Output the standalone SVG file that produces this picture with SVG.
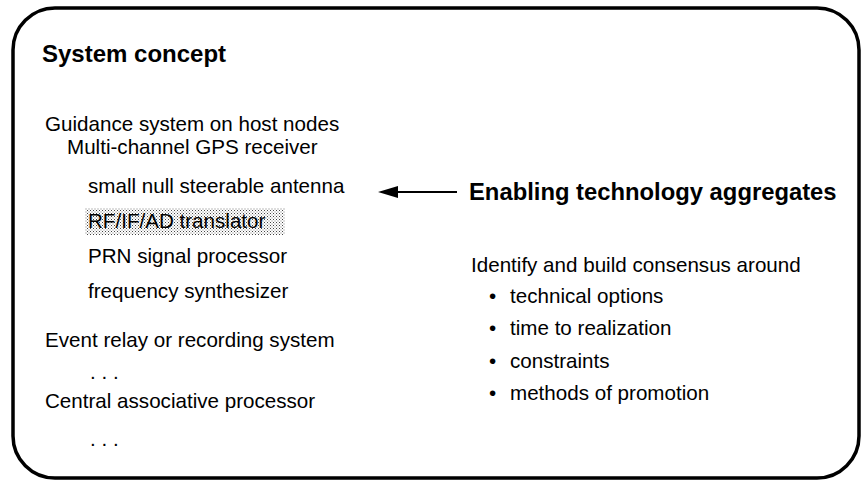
<svg xmlns="http://www.w3.org/2000/svg" width="862" height="484" viewBox="0 0 862 484">
  <defs>
    <style>
      .t { font-family: "Liberation Sans", Arial, sans-serif; font-size: 20.6px; fill: #000; }
      .h { font-family: "Liberation Sans", Arial, sans-serif; font-size: 24px; font-weight: bold; fill: #000; }
      .b { font-family: "Liberation Sans", Arial, sans-serif; font-size: 23.8px; font-weight: bold; fill: #000; }
      .frame { fill: #fff; stroke: #000; stroke-width: 3.5; }
      .link { stroke: #000; stroke-width: 2.2; fill: none; }
    </style>
    <!-- fine halftone used to highlight an item -->
    <pattern id="dots" width="3" height="3" patternUnits="userSpaceOnUse">
      <rect width="3" height="3" fill="#fff"/>
      <rect width="1" height="1" fill="#444"/>
      <rect x="1.5" y="1.5" width="1" height="1" fill="#777"/>
    </pattern>
  </defs>

  <rect width="862" height="484" fill="#fff"/>

  <!-- outer rounded frame -->
  <rect class="frame" x="13" y="8" width="846" height="470" rx="42" ry="42"/>

  <!-- left column: system breakdown -->
  <g id="system-concept">
    <text class="h" x="42" y="62">System concept</text>
  </g>
  <g id="guidance">
    <text class="t" x="45" y="131">Guidance system on host nodes</text>
    <text class="t" x="67" y="154">Multi-channel GPS receiver</text>
  </g>
  <g id="antenna">
    <text class="t" x="88" y="193">small null steerable antenna</text>
  </g>
  <g id="translator">
    <rect x="85" y="208" width="200" height="27" fill="url(#dots)"/>
    <text class="t" x="88" y="228">RF/IF/AD translator</text>
  </g>
  <g id="prn">
    <text class="t" x="88" y="263">PRN signal processor</text>
  </g>
  <g id="synth">
    <text class="t" x="88" y="298">frequency synthesizer</text>
  </g>
  <g id="event-relay">
    <text class="t" x="45" y="347">Event relay or recording system</text>
    <text class="t" x="90" y="379">. . .</text>
  </g>
  <g id="central">
    <text class="t" x="45" y="408">Central associative processor</text>
    <text class="t" x="90" y="446">. . .</text>
  </g>

  <!-- right column -->
  <g id="enabling">
    <text class="b" x="469" y="200">Enabling technology aggregates</text>
  </g>
  <g id="consensus">
    <text class="t" x="471" y="272">Identify and build consensus around</text>
    <text class="t" x="489" y="303">•</text><text class="t" x="510" y="303">technical options</text>
    <text class="t" x="489" y="335">•</text><text class="t" x="510" y="335">time to realization</text>
    <text class="t" x="489" y="368">•</text><text class="t" x="510" y="368">constraints</text>
    <text class="t" x="489" y="400">•</text><text class="t" x="510" y="400">methods of promotion</text>
  </g>

  <g id="connectors">
    <line class="link" x1="457" y1="192" x2="392" y2="192"/>
    <path d="M378,192 L398,186 L398,198 Z" fill="#000"/>
  </g>
</svg>
